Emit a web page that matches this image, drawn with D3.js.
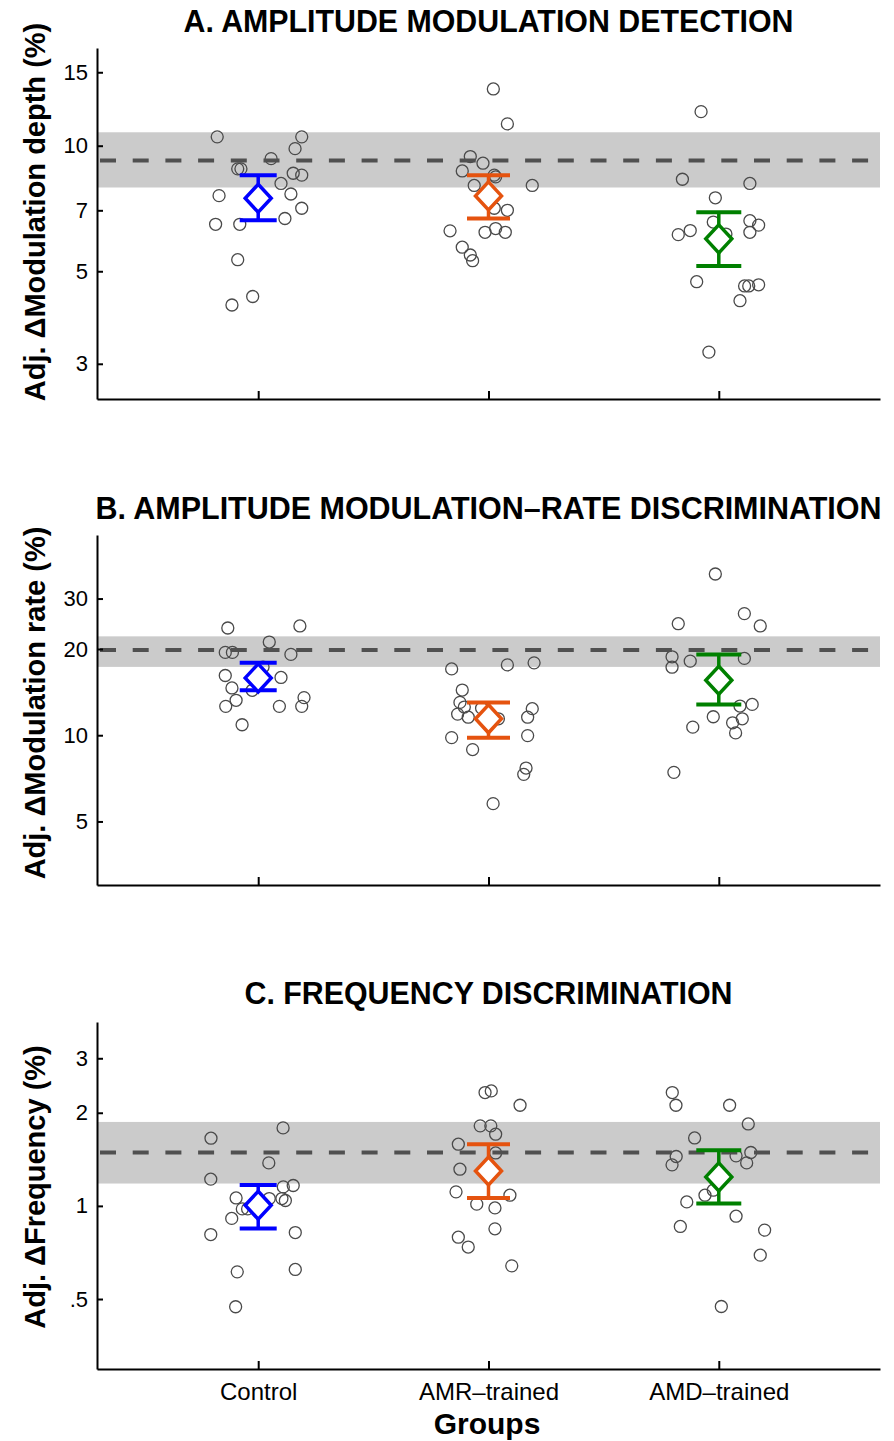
<!DOCTYPE html>
<html>
<head>
  <title>Adjusted thresholds by group</title>
  <script src="https://d3js.org/d3.v7.min.js"></script>
  <style>
    body { margin: 0; background: #fff; }
    text { font-family: "Liberation Sans", Arial, Helvetica, sans-serif; }
  </style>
</head>
<body>
<script type="text/javascript">
  var w = 894;
  var h = 1441;

  // groups on the x axis
  var groups = ["Control", "AMR\u2013trained", "AMD\u2013trained"];
  var groupColors = ["#0000ff", "#e5530f", "#008000"];

  // A. amplitude modulation detection (% depth), one list per group
  var depthValues = [
    [10.5, 10.5, 9.84, 9.31, 8.80, 8.80, 8.59, 8.50, 8.12, 7.59, 7.66, 7.08, 6.69, 6.48, 6.48, 5.33, 4.35, 4.15],
    [13.68, 11.28, 9.42, 9.08, 8.70, 8.50, 8.42, 8.03, 8.03, 7.08, 7.00, 6.25, 6.20, 6.33, 6.20, 5.71, 5.47, 5.30],
    [12.07, 8.31, 8.12, 7.50, 6.56, 6.14, 6.26, 6.12, 6.61, 6.45, 6.20, 4.72, 4.61, 4.61, 4.64, 4.25, 3.20]
  ];
  var depthJitter = [
    [-0.178, 0.189, 0.160, 0.056, -0.089, -0.075, 0.152, 0.189, 0.099, -0.170, 0.142, 0.189, 0.116, -0.185, -0.080, -0.089, -0.024, -0.114],
    [0.021, 0.082, -0.079, -0.024, -0.114, 0.025, 0.031, -0.062, 0.190, 0.025, 0.082, -0.167, -0.015, 0.031, 0.073, -0.114, -0.079, -0.069],
    [-0.077, -0.158, 0.135, -0.015, -0.024, 0.031, -0.124, -0.176, 0.135, 0.173, 0.135, -0.096, 0.112, 0.130, 0.173, 0.092, -0.043]
  ];
  var depthMeans = [7.48, 7.58, 5.98];
  var depthLow = [6.63, 6.69, 5.15];
  var depthHigh = [8.50, 8.50, 6.93];
  var depthBand = [7.94, 10.77];
  var depthRef = 9.21;
  var depthTicks = [3, 5, 7, 10, 15];

  // B. amplitude modulation-rate discrimination (% rate)
  var rateValues = [
    [23.68, 24.07, 21.15, 19.46, 19.46, 19.15, 16.16, 15.91, 14.62, 14.35, 13.24, 13.53, 12.61, 12.61, 12.61, 10.88, 17.3],
    [17.04, 17.60, 17.89, 14.38, 13.02, 12.54, 11.85, 11.56, 12.43, 11.41, 12.38, 11.56, 9.97, 9.81, 8.91, 7.68, 7.30, 5.77],
    [36.54, 26.58, 24.07, 24.51, 18.78, 17.28, 18.14, 18.54, 12.64, 12.81, 11.60, 11.41, 11.05, 10.19, 10.67, 7.42]
  ];
  var rateJitter = [
    [-0.132, 0.181, 0.048, -0.143, -0.112, 0.142, -0.143, 0.099, -0.114, -0.026, -0.096, 0.199, -0.141, 0.092, 0.189, -0.070, 0.021],
    [-0.160, 0.082, 0.198, -0.114, -0.124, -0.105, -0.134, -0.088, -0.030, 0.043, 0.190, 0.170, 0.170, -0.160, -0.069, 0.163, 0.153, 0.020],
    [-0.015, 0.111, 0.180, -0.176, -0.203, -0.203, -0.124, 0.111, 0.092, 0.145, -0.024, 0.102, 0.060, 0.073, -0.113, -0.195]
  ];
  var rateMeans = [15.85, 11.41, 15.56];
  var rateLow = [14.35, 9.79, 12.81];
  var rateHigh = [17.89, 13.02, 19.15];
  var rateBand = [17.32, 22.14];
  var rateRef = 19.83;
  var rateTicks = [5, 10, 20, 30];

  // C. frequency discrimination (% frequency)
  var freqValues = [
    [1.787, 1.655, 1.377, 1.220, 1.164, 1.152, 1.061, 1.056, 1.056, 1.041, 0.978, 0.978, 0.911, 0.808, 0.820, 0.612, 0.623, 0.472],
    [2.325, 2.353, 2.115, 1.814, 1.814, 1.705, 1.583, 1.483, 1.314, 1.110, 1.083, 1.013, 0.985, 0.843, 0.792, 0.736, 0.640],
    [2.325, 2.115, 2.115, 1.840, 1.658, 1.444, 1.357, 1.451, 1.488, 1.377, 1.083, 1.124, 1.030, 0.926, 0.858, 0.835, 0.693, 0.473]
  ];
  var freqJitter = [
    [0.108, -0.205, 0.046, -0.206, 0.152, 0.109, -0.096, 0.048, 0.103, 0.118, -0.069, -0.046, -0.115, -0.206, 0.161, -0.091, 0.161, -0.098],
    [-0.015, 0.012, 0.137, -0.036, 0.010, 0.031, -0.131, 0.031, -0.124, -0.141, 0.093, -0.051, 0.028, 0.028, -0.131, -0.088, 0.101],
    [-0.202, -0.186, 0.047, 0.128, -0.105, -0.185, -0.203, 0.075, 0.139, 0.121, -0.060, -0.024, -0.139, 0.075, -0.167, 0.199, 0.180, 0.011]
  ];
  var freqMeans = [1.005, 1.297, 1.241];
  var freqLow = [0.845, 1.061, 1.018];
  var freqHigh = [1.169, 1.583, 1.514];
  var freqBand = [1.181, 1.868];
  var freqRef = 1.488;
  var freqTicks = [0.5, 1, 2, 3];
  var freqTickLabels = [".5", "1", "2", "3"];

  var panels = [
    { title: "A. AMPLITUDE MODULATION DETECTION", ylabel: "Adj. \u0394Modulation depth (%)",
      top: 48, bottom: 399, domain: [2.47, 17.15], titleY: 32, titleW: 610, labelY: 212,
      values: depthValues, jitter: depthJitter, means: depthMeans, low: depthLow, high: depthHigh,
      band: depthBand, ref: depthRef, ticks: depthTicks, fmt: function(d) { return d; } },
    { title: "B. AMPLITUDE MODULATION\u2013RATE DISCRIMINATION", ylabel: "Adj. \u0394Modulation rate (%)",
      top: 535, bottom: 885, domain: [3, 50], titleY: 519, titleW: 786, labelY: 703,
      values: rateValues, jitter: rateJitter, means: rateMeans, low: rateLow, high: rateHigh,
      band: rateBand, ref: rateRef, ticks: rateTicks, fmt: function(d) { return d; } },
    { title: "C. FREQUENCY DISCRIMINATION", ylabel: "Adj. \u0394Frequency (%)",
      top: 1022, bottom: 1369, domain: [0.297, 3.93], titleY: 1004, titleW: 488, labelY: 1187,
      values: freqValues, jitter: freqJitter, means: freqMeans, low: freqLow, high: freqHigh,
      band: freqBand, ref: freqRef, ticks: freqTicks,
      fmt: function(d, i) { return freqTickLabels[i]; }, xlabels: true }
  ];

  var capWidths = [37, 43, 45];

  var svg = d3.select("body").append("svg")
    .attr("width", w)
    .attr("height", h);

  var x = d3.scaleLinear().domain([0.3, 3.7]).range([97, 880]);

  panels.forEach(function(p) {
    var y = d3.scaleLog().domain(p.domain).range([p.bottom, p.top]);
    var g = svg.append("g");

    // normal range band and reference line
    g.append("rect")
      .attr("x", x(0.3))
      .attr("width", x(3.7) - x(0.3))
      .attr("y", y(p.band[1]))
      .attr("height", y(p.band[0]) - y(p.band[1]))
      .attr("fill", "#cbcbcb");

    // individual listeners
    p.values.forEach(function(vals, gi) {
      g.selectAll(null)
        .data(vals)
        .enter()
        .append("circle")
        .attr("cx", function(d, i) { return x(gi + 1 + p.jitter[gi][i]); })
        .attr("cy", function(d) { return y(d); })
        .attr("r", 6)
        .attr("fill", "none")
        .attr("stroke", "#4a4a4a")
        .attr("stroke-width", 1.3);
    });

    g.append("line")
      .attr("x1", x(0.3) + 3)
      .attr("x2", x(3.7) - 4)
      .attr("y1", y(p.ref))
      .attr("y2", y(p.ref))
      .attr("stroke", "#505050")
      .attr("stroke-width", 4)
      .attr("stroke-dasharray", "16,16.7");

    // group means with error bars
    p.means.forEach(function(m, gi) {
      var cx = x(gi + 1);
      var col = groupColors[gi];
      var cw = capWidths[gi] / 2;
      g.append("line")
        .attr("x1", cx).attr("x2", cx)
        .attr("y1", y(p.high[gi])).attr("y2", y(p.low[gi]))
        .attr("stroke", col).attr("stroke-width", 3.5);
      [p.high[gi], p.low[gi]].forEach(function(v) {
        g.append("line")
          .attr("x1", cx - cw).attr("x2", cx + cw)
          .attr("y1", y(v)).attr("y2", y(v))
          .attr("stroke", col).attr("stroke-width", 4);
      });
      var cy = y(m);
      g.append("path")
        .attr("d", "M" + cx + "," + (cy - 14) + "L" + (cx + 13) + "," + cy +
          "L" + cx + "," + (cy + 14) + "L" + (cx - 13) + "," + cy + "Z")
        .attr("fill", "#fff")
        .attr("stroke", col)
        .attr("stroke-width", 3.5)
        .attr("stroke-linejoin", "miter");
    });

    // axes
    var yAxis = g.append("g")
      .attr("transform", "translate(" + x(0.3) + ",0)")
      .call(d3.axisLeft(y).tickValues(p.ticks).tickFormat(p.fmt)
        .tickSizeInner(-6).tickSizeOuter(0).tickPadding(9));
    yAxis.selectAll("text").attr("font-size", 22).attr("fill", "#000")
      .style("font-family", "'Liberation Sans', Arial, sans-serif");

    var xAxis = g.append("g")
      .attr("transform", "translate(0," + p.bottom + ")")
      .call(d3.axisBottom(x).tickValues([1, 2, 3])
        .tickFormat(function(d, i) { return p.xlabels ? groups[i] : ""; })
        .tickSizeInner(-8).tickSizeOuter(0).tickPadding(14));
    xAxis.selectAll("text").attr("font-size", 24).attr("fill", "#000")
      .style("font-family", "'Liberation Sans', Arial, sans-serif");

    g.selectAll(".domain, .tick line")
      .attr("stroke", "#000")
      .attr("stroke-width", 2);

    // titles, slightly condensed like the original
    g.append("text")
      .attr("x", 488.5)
      .attr("y", p.titleY)
      .attr("text-anchor", "middle")
      .attr("font-size", 31)
      .attr("font-weight", "bold")
      .attr("textLength", p.titleW)
      .attr("lengthAdjust", "spacingAndGlyphs")
      .text(p.title);

    g.append("text")
      .attr("transform", "translate(45," + p.labelY + ") rotate(-90)")
      .attr("text-anchor", "middle")
      .attr("font-size", 29)
      .attr("font-weight", "bold")
      .text(p.ylabel);
  });

  svg.append("text")
    .attr("x", 487)
    .attr("y", 1434)
    .attr("text-anchor", "middle")
    .attr("font-size", 30)
    .attr("font-weight", "bold")
    .text("Groups");
</script>
</body>
</html>
